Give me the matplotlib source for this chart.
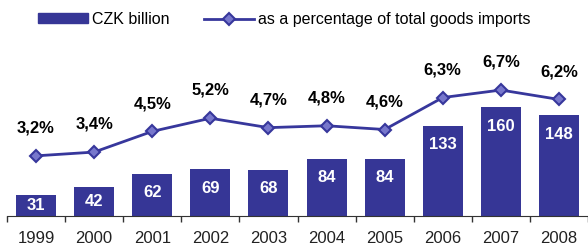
import matplotlib
matplotlib.use("Agg")
from matplotlib import pyplot as plt
from matplotlib.patches import Patch
from matplotlib.lines import Line2D
import numpy as np

plt.rcParams['font.family'] = ['Liberation Sans', 'DejaVu Sans']

years = ["1999", "2000", "2001", "2002", "2003", "2004", "2005", "2006", "2007", "2008"]
czk_billion = [31, 42, 62, 69, 68, 84, 84, 133, 160, 148]
pct_imports = [3.2, 3.4, 4.5, 5.2, 4.7, 4.8, 4.6, 6.3, 6.7, 6.2]

bar_color = '#363696'
line_color = '#37379c'
marker_face = '#7777cc'

fig = plt.figure(figsize=(5.88, 2.46), dpi=100)
# axes: x from 7px to 588px, baseline at 216px, top at 30px
ax = fig.add_axes([7 / 588, 30 / 246, 581 / 588, 186 / 246])
ax2 = ax.twinx()

x = np.arange(len(years))
ax.bar(x, czk_billion, width=0.69, color=bar_color, zorder=2)
ax.set_ylim(0, 186 / 0.68)
ax.set_xlim(-0.5, len(years) - 0.5)

for xi, v in zip(x, czk_billion):
    ax.text(xi, max(v - 28, v / 2), str(v), ha='center', va='center',
            color='white', fontsize=12, fontweight='bold')

ax2.plot(x, pct_imports, color=line_color, lw=2, marker='D', ms=6,
         mfc=marker_face, mec=line_color, mew=1.5, zorder=3)
ax2.set_ylim(0, 186 / 18.8)
for xi, p in zip(x, pct_imports):
    ax2.annotate(f"{p:.1f}%".replace('.', ','), (xi, p), xytext=(0, 20),
                 textcoords='offset points', ha='center', va='center',
                 fontsize=12, fontweight='bold', color='black')

for a in (ax, ax2):
    for s in ('top', 'left', 'right'):
        a.spines[s].set_visible(False)
    a.set_yticks([])
ax2.spines['bottom'].set_visible(False)
ax.spines['bottom'].set_color('#333333')

ax.set_xticks(x)
ax.set_xticklabels(years, fontsize=12, color='#222222')
ax.tick_params(axis='x', length=0, pad=11)
ax.set_xticks(np.arange(-0.5, len(years)), minor=True)
ax.tick_params(axis='x', which='minor', length=4, color='#333333', width=1)

handles = [Patch(color=bar_color),
           Line2D([], [], color=line_color, lw=2, marker='D', ms=6,
                  mfc=marker_face, mec=line_color, mew=1.5)]
fig.legend(handles, ["CZK billion", "as a percentage of total goods imports"],
           loc='upper left', bbox_to_anchor=(38 / 588, 1 - 12 / 246), ncol=2,
           frameon=False, fontsize=11.5, handlelength=3.1, handleheight=0.6,
           handletextpad=0.25, columnspacing=2.2, borderpad=0, borderaxespad=0)

fig.savefig("out.png", dpi=100)
